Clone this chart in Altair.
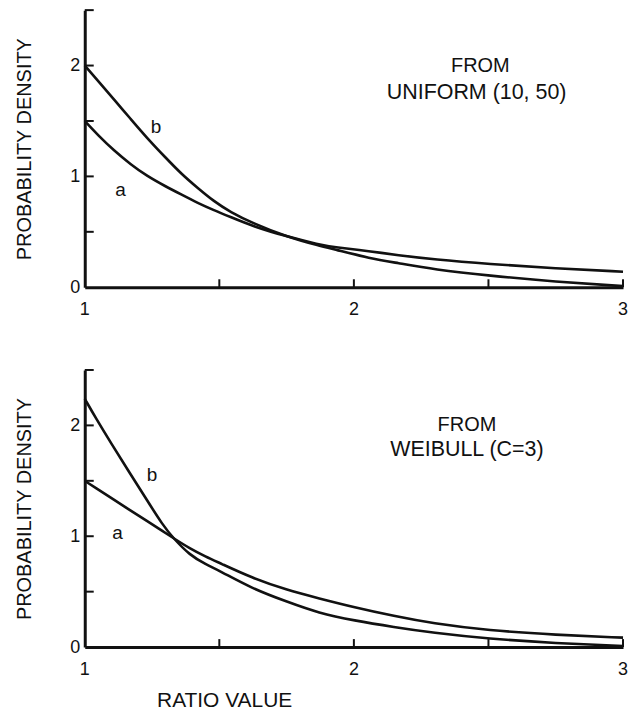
import altair as alt
import pandas as pd

# ---- data ----
top_x = [1.0, 1.05, 1.11, 1.17, 1.23, 1.30, 1.36, 1.42, 1.48, 1.54, 1.625, 1.75,
         1.87, 1.93, 2.06, 2.16, 2.3, 2.5, 2.75, 3.0]
top_a = [1.50, 1.37, 1.23, 1.11, 1.005, 0.91, 0.835, 0.76, 0.695, 0.635, 0.55, 0.458,
         0.385, 0.36, 0.325, 0.29, 0.25, 0.21, 0.17, 0.14]
top_b = [2.00, 1.86, 1.69, 1.52, 1.35, 1.17, 1.02, 0.895, 0.775, 0.68, 0.577, 0.456,
         0.375, 0.34, 0.26, 0.22, 0.16, 0.105, 0.05, 0.01]

bot_x = [1.0, 1.04, 1.10, 1.165, 1.23, 1.29, 1.33, 1.39, 1.45, 1.50, 1.62, 1.75,
         1.87, 2.0, 2.15, 2.29, 2.5, 2.75, 3.0]
bot_a = [1.50, 1.437, 1.343, 1.24, 1.139, 1.045, 0.982, 0.89, 0.815, 0.76, 0.625, 0.516,
         0.44, 0.36, 0.28, 0.215, 0.15, 0.11, 0.085]
bot_b = [2.24, 2.07, 1.83, 1.58, 1.33, 1.10, 0.98, 0.83, 0.745, 0.69, 0.53, 0.41,
         0.306, 0.24, 0.18, 0.13, 0.075, 0.035, 0.01]

x_tick_labels = [1, 2, 3]
y_tick_labels = [0, 1, 2]
x_minor_ticks = [1.5, 2, 2.5, 3]
y_minor_ticks = [0.5, 1, 1.5, 2, 2.5]

top_note = ["FROM", "UNIFORM (10, 50)"]
top_note_x = [2.47, 2.456]
top_note_y = [2.0, 1.75]
bot_note = ["FROM", "WEIBULL (C=3)"]
bot_note_x = [2.42, 2.42]
bot_note_y = [2.0, 1.78]

top_lab_x = [1.133, 1.265]
top_lab_y = [0.877, 1.447]
bot_lab_x = [1.122, 1.25]
bot_lab_y = [1.03, 1.55]
curve_names = ["a", "b"]

W, H = 540, 278
FONT = "Liberation Sans"
INK = "#111111"

xscale = alt.Scale(domain=[1, 3], nice=False, zero=False)
yscale = alt.Scale(domain=[0, 2.5], nice=False)


def panel(xs, a, b, lab_x, lab_y, notes, note_x, note_y, bottom):
    df = pd.DataFrame({"x": xs + xs, "y": a + b,
                       "s": ["a"] * len(xs) + ["b"] * len(xs)})
    xaxis_kw = dict(labels=False, ticks=False, tickSize=0,
                    grid=False, domainColor=INK, domainWidth=3)
    if bottom:
        xaxis = alt.Axis(title="RATIO VALUE", titleFontSize=21, titleFont=FONT,
                         titleFontWeight="normal", titleColor=INK,
                         titleAnchor="start", titleAlign="left", titleX=72,
                         titleY=60, titleBaseline="alphabetic", **xaxis_kw)
    else:
        xaxis = alt.Axis(title=None, **xaxis_kw)
    yaxis = alt.Axis(values=y_tick_labels, format="d", ticks=False, tickSize=0,
                     grid=False, domainColor=INK, domainWidth=3,
                     labelFontSize=18, labelPadding=5, labelColor=INK,
                     labelFont=FONT, labelOverlap=False, labelFlush=False,
                     title="PROBABILITY DENSITY",
                     titleFontSize=20, titleFont=FONT, titleFontWeight="normal",
                     titleColor=INK, titlePadding=35)
    X = lambda f: alt.X(f, scale=xscale, axis=xaxis)
    Y = lambda f: alt.Y(f, scale=yscale, axis=yaxis)
    lines = alt.Chart(df).mark_line(interpolate="basis", strokeWidth=2.6,
                                    color=INK).encode(
        x=X("x:Q"), y=Y("y:Q"), detail="s:N")
    yt = alt.Chart(pd.DataFrame({"y": y_minor_ticks})).mark_rule(
        strokeWidth=2, color=INK).encode(
        y=Y("y:Q"), x=alt.value(0), x2=alt.value(9))
    xt = alt.Chart(pd.DataFrame({"x": x_minor_ticks})).mark_rule(
        strokeWidth=2, color=INK).encode(
        x=X("x:Q"), y=alt.value(H), y2=alt.value(H - 8))
    # x tick labels drawn as text through the x scale
    xl = alt.Chart(pd.DataFrame({"x": x_tick_labels})).mark_text(
        fontSize=18, font=FONT, color=INK, align="center", baseline="top").encode(
        x=X("x:Q"), y=alt.value(H + 14), text=alt.Text("x:Q", format="d"))
    labs = alt.Chart(pd.DataFrame({"x": lab_x, "y": lab_y, "t": curve_names})).mark_text(
        fontSize=19, font=FONT, color=INK, align="center", baseline="middle").encode(
        x=X("x:Q"), y=Y("y:Q"), text="t:N")
    note1 = alt.Chart(pd.DataFrame({"x": note_x[:1], "y": note_y[:1], "t": notes[:1]})).mark_text(
        fontSize=20, font=FONT, color=INK, align="center", baseline="middle").encode(
        x=X("x:Q"), y=Y("y:Q"), text="t:N")
    note2 = alt.Chart(pd.DataFrame({"x": note_x[1:], "y": note_y[1:], "t": notes[1:]})).mark_text(
        fontSize=21.5, font=FONT, color=INK, align="center", baseline="middle").encode(
        x=X("x:Q"), y=Y("y:Q"), text="t:N")
    return alt.layer(lines, yt, xt, xl, labs, note1, note2).properties(width=W, height=H)


top = panel(top_x, top_a, top_b, top_lab_x, top_lab_y, top_note, top_note_x,
            top_note_y, False)
bot = panel(bot_x, bot_a, bot_b, bot_lab_x, bot_lab_y, bot_note, bot_note_x,
            bot_note_y, True)

chart = alt.vconcat(top, bot, spacing=50).properties(
    padding={"left": 6, "top": 0, "right": 0, "bottom": 2},
    background="white",
).configure_view(stroke=None)

chart.save("out.html", embed_options={"renderer": "svg", "actions": False})
